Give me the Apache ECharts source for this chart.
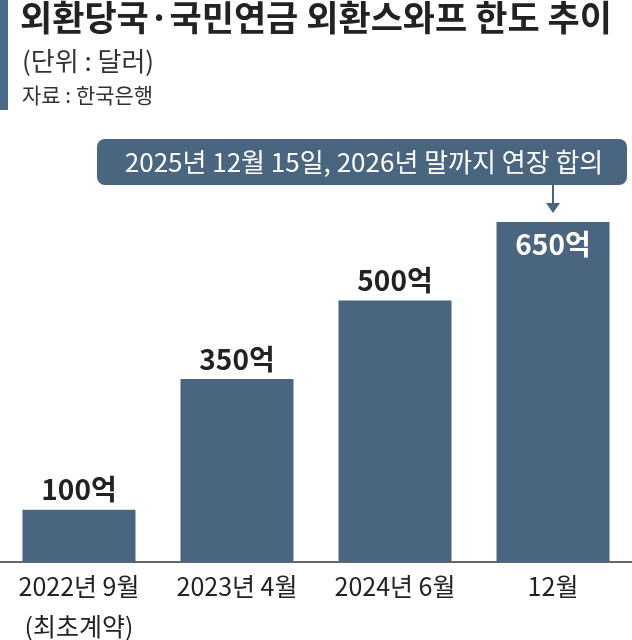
<!DOCTYPE html>
<html><head><meta charset="utf-8">
<script src="https://cdn.jsdelivr.net/npm/echarts@6/dist/echarts.min.js"></script>
<style>html,body{margin:0;padding:0;background:#fff}#c{width:632px;height:640px}</style>
</head><body><div id="c"></div>
<script>
const categories = ['2022년 9월\n(최초계약)', '2023년 4월', '2024년 6월', '12월'];
const values = [100, 350, 500, 650];
const valueLabels = ['100억', '350억', '500억', '650억'];
const titleText = '외환당국·국민연금 외환스와프 한도 추이';
const unitText = '(단위 : 달러)';
const sourceText = '자료 : 한국은행';
const calloutText = '2025년 12월 15일, 2026년 말까지 연장 합의';
const FONT = '"Noto Sans CJK KR", "Noto Sans", sans-serif';
const barColor = '#4a6580';
const chart = echarts.init(document.getElementById('c'));
const seriesData = values.map((v, i) => i === values.length - 1
  ? { value: v, label: { position: 'insideTop', color: '#fff', distance: 8 } }
  : v);
chart.setOption({
  animation: false,
  backgroundColor: '#fff',
  grid: { left: 0, right: 0, top: 222, bottom: 78, outerBoundsMode: 'none', containLabel: false },
  xAxis: {
    type: 'category', data: categories,
    axisLine: { lineStyle: { color: '#333', width: 1.5 } },
    axisTick: { show: false },
    axisLabel: { color: '#222', fontSize: 25, fontFamily: FONT, lineHeight: 40, margin: 4, verticalAlign: 'top', interval: 0 }
  },
  yAxis: { type: 'value', min: 0, max: 650, show: false, splitLine: { show: false } },
  series: [{
    type: 'bar', data: seriesData, barWidth: 113,
    itemStyle: { color: barColor },
    label: {
      show: true, position: 'top', distance: 6, color: '#222', fontSize: 28, fontWeight: 'bold', fontFamily: FONT,
      formatter: p => valueLabels[p.dataIndex]
    }
  }],
  graphic: [
    { type: 'rect', shape: { x: 0, y: 0, width: 8, height: 110 }, style: { fill: '#4a6a8a' } },
    { type: 'text', left: 20, top: 0, style: { text: titleText, fontSize: 35, fontWeight: 'bold', fill: '#222', fontFamily: FONT } },
    { type: 'text', left: 22, top: 48, style: { text: unitText, fontSize: 26, fill: '#333', fontFamily: FONT } },
    { type: 'text', left: 22, top: 85, style: { text: sourceText, fontSize: 21, fill: '#333', fontFamily: FONT } },
    { type: 'rect', shape: { x: 97, y: 139, width: 530, height: 46, r: 8 }, style: { fill: barColor } },
    { type: 'text', x: 364, y: 162, style: { text: calloutText, fontSize: 26, fill: '#fff', fontFamily: FONT, align: 'center', verticalAlign: 'middle' } },
    { type: 'line', shape: { x1: 553, y1: 185, x2: 553, y2: 205 }, style: { stroke: barColor, lineWidth: 2 } },
    { type: 'polygon', shape: { points: [[546, 203], [560, 203], [553, 213]] }, style: { fill: barColor } }
  ]
});
</script></body></html>
